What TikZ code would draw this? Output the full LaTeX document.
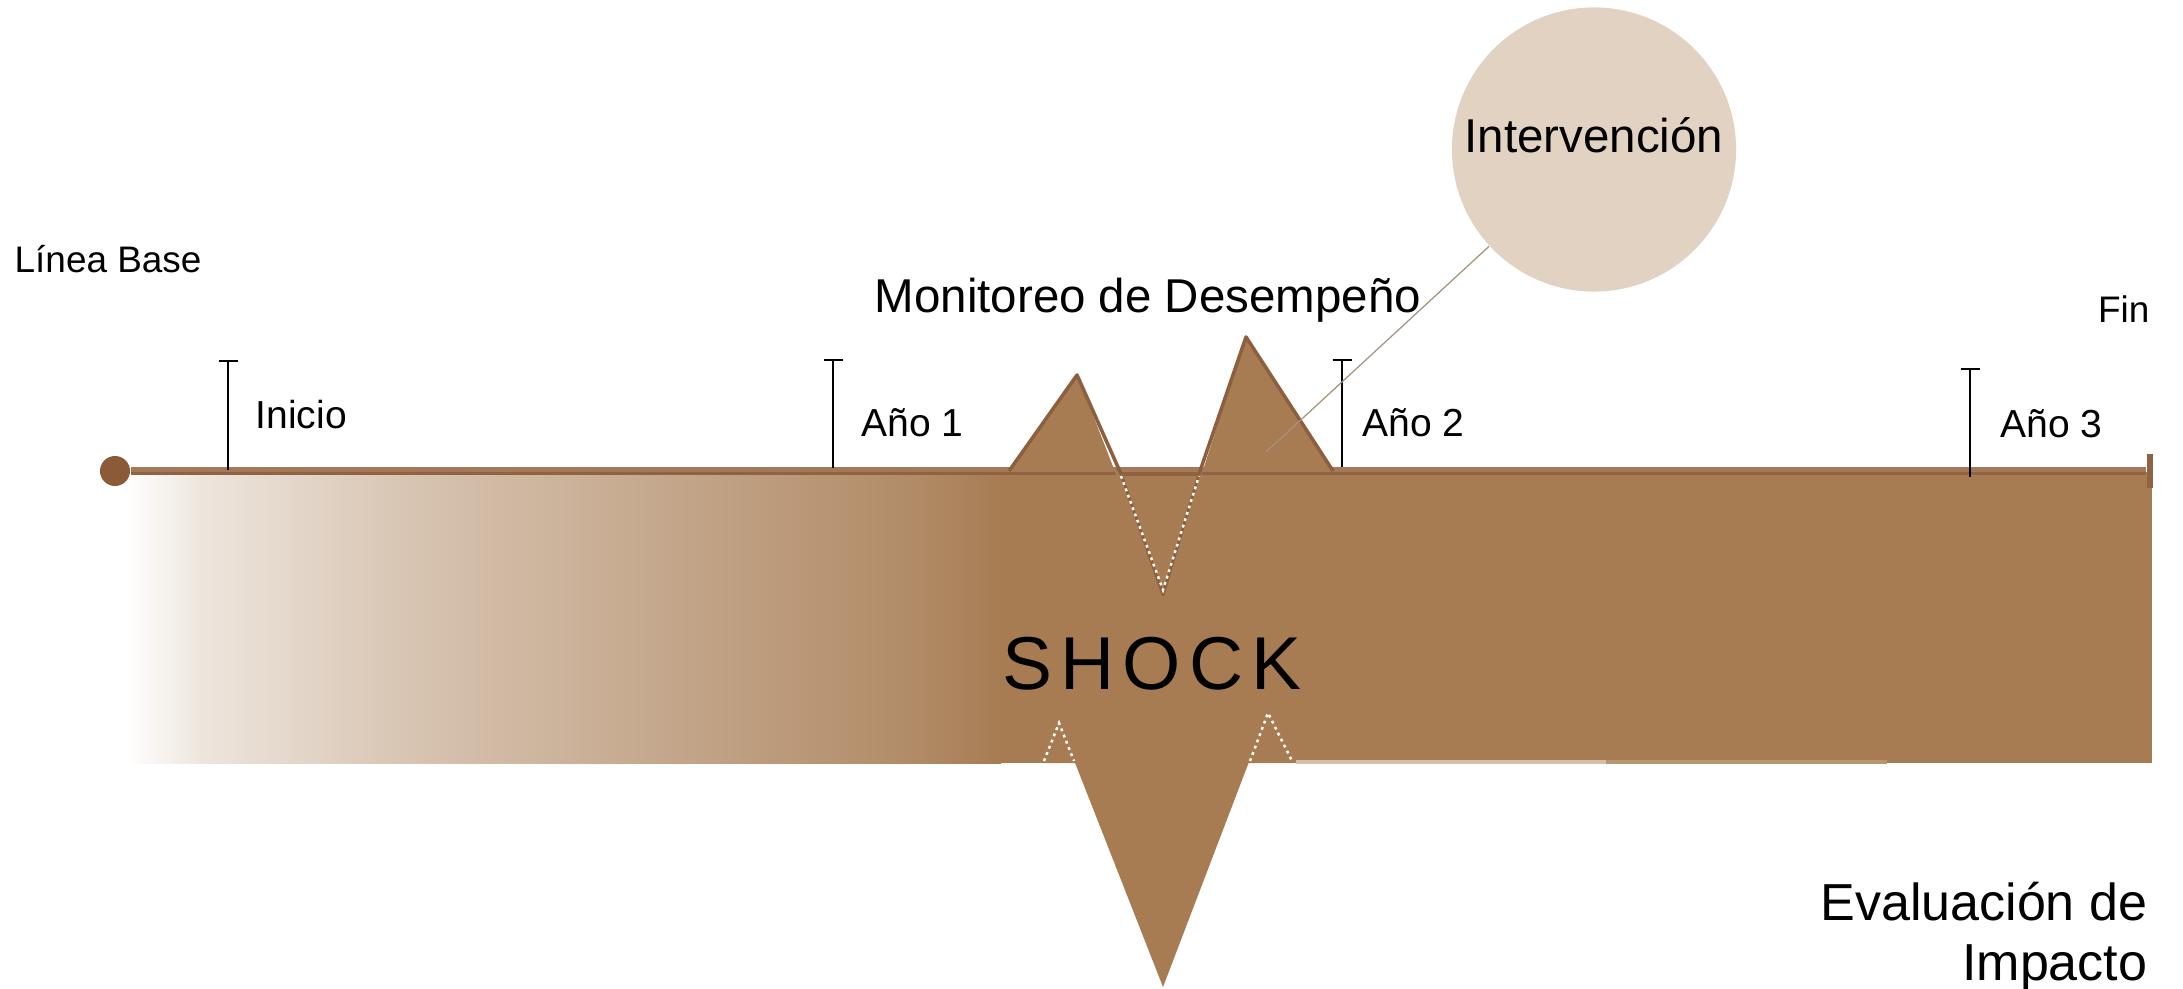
\documentclass[tikz,border=0pt]{standalone}
\usepackage{fontspec}
\setmainfont{Liberation Sans}
\definecolor{brn}{RGB}{167,124,83}
\definecolor{brnedge}{RGB}{140,96,62}
\definecolor{tl}{RGB}{163,121,89}
\definecolor{tldark}{RGB}{143,99,66}
\definecolor{dotc}{RGB}{139,90,55}
\definecolor{circ}{RGB}{226,210,194}
\definecolor{connc}{RGB}{165,145,125}
\definecolor{stripa}{RGB}{212,190,168}
\definecolor{stripb}{RGB}{185,150,115}
\tikzset{
  yearlbl/.style={inner sep=0pt, anchor=base west, font=\fontsize{11.1pt}{13pt}\selectfont},
  smalllbl/.style={inner sep=0pt, font=\fontsize{10.5pt}{12.5pt}\selectfont},
  biglbl/.style={inner sep=0pt, font=\fontsize{13.5pt}{16pt}\selectfont},
  evallbl/.style={inner sep=0pt, anchor=base east, font=\fontsize{14.8pt}{17pt}\selectfont},
  tickmark/.style={draw=black, line width=0.38pt},
  peakedge/.style={draw=brnedge, line width=1pt, line join=round},
  whitedots/.style={draw=white, line width=0.7pt, dash pattern=on 0.8pt off 1.1pt},
  connline/.style={draw=connc, line width=0.35pt},
}
\begin{document}
\begin{tikzpicture}[x=0.01cm, y=-0.01cm]
\useasboundingbox (0,0) rectangle (2183,989);

% gradient band
\fill[left color=white, right color=brn!20!white] (125,472) rectangle (203,763);
\fill[left color=brn!20!white, right color=brn!46!white] (202,472) rectangle (420,763);
\fill[left color=brn!46!white, right color=brn!68!white] (419,472) rectangle (675,763);
\fill[left color=brn!68!white, right color=brn!88!white] (674,472) rectangle (910,763);
\fill[left color=brn!88!white, right color=brn] (909,472) rectangle (1001,763);
\fill[brn] (1000,472) rectangle (2152,763);
\fill[stripa] (1296,760) rectangle (1606,764);
\fill[stripb] (1606,760) rectangle (1887,764);

% timeline
\node[circle, fill=dotc, minimum size=0.3cm, inner sep=0pt] (startdot) at (115,471) {};
\node[rectangle, fill=tldark, minimum width=0.06cm, minimum height=0.33cm, inner sep=0pt] (endcap) at (2150,471) {};
\draw[tl, line width=2.2pt] (startdot.east) -- (endcap.west);
\draw[tldark, line width=0.9pt] ([yshift=-0.6pt]startdot.east) -- ([yshift=-0.6pt]endcap.west);

% ticks
\draw[tickmark] (228,470) -- (228,361) (218.5,361) -- (237.5,361);
\draw[tickmark] (833,468) -- (833,360) (823.5,360) -- (842.5,360);
\draw[tickmark] (1342,467) -- (1342,360) (1332.5,360) -- (1351.5,360);
\draw[tickmark] (1970,477) -- (1970,369) (1960.5,369) -- (1979.5,369);

% shock, upper part
\fill[brn] (1009,471) -- (1077,374) -- (1163,595) -- (1246,336) -- (1333,471) -- cycle;
\draw[tldark, line width=1.3pt] (1120,474) -- (1200,474);
\draw[peakedge] (1009,471) -- (1077,375) -- (1121,474);
\draw[peakedge] (1199,474) -- (1246,337) -- (1333,471);
\draw[peakedge, line width=0.8pt] (1121,474) -- (1163,595) -- (1199,474);
\draw[whitedots] (1121,476) -- (1163,590) -- (1199,476);

% shock, lower part
\fill[brn] (1043,763) -- (1059,722) -- (1163,987) -- (1268,712) -- (1293,763) -- cycle;
\draw[whitedots] (1044,761) -- (1059,723) -- (1074,761);
\draw[whitedots] (1250,761) -- (1268,713) -- (1292,761);

% intervention circle and connector
\node[circle, fill=circ, minimum size=2.84cm, inner sep=0pt] (interv) at (1594,149.5) {};
\node[biglbl, anchor=base] (intervtxt) at (1594,153) {Intervención};
\coordinate (shockpt) at (1266,452);
\draw[connline] (interv) -- (shockpt);

% labels
\node[smalllbl, anchor=base west] (linea) at (14,273) {Línea Base};
\node[smalllbl, anchor=base east] (fin) at (2150,323) {Fin};
\node[yearlbl] (inicio) at (255,429) {Inicio};
\node[yearlbl] (anio1) at (861,437) {Año 1};
\node[yearlbl] (anio2) at (1362,437) {Año 2};
\node[yearlbl] (anio3) at (2000,438) {Año 3};
\node[biglbl, anchor=base west] (monit) at (874,313) {Monitoreo de Desempeño};
\node[inner sep=0pt, font=\fontsize{21.3pt}{24pt}\selectfont] (shock) at (1152,664) {S\kern2.3pt H\kern2.3pt O\kern2.3pt C\kern2.3pt K};
\node[evallbl] (eval1) at (2148,920) {Evaluación de};
\node[evallbl] (eval2) at (2148,980) {Impacto};
\end{tikzpicture}
\end{document}
